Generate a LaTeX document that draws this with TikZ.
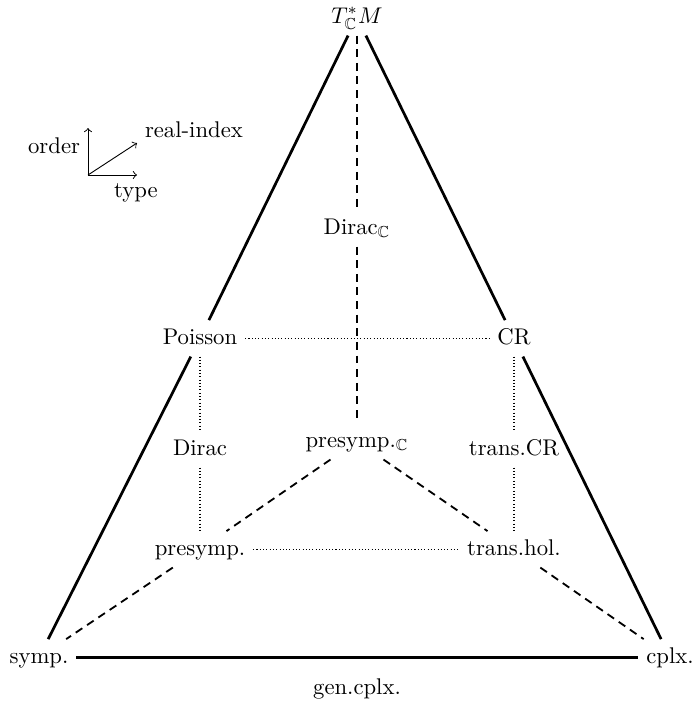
\documentclass[tikz,border=0pt]{standalone}
\usepackage{amssymb}
\begin{document}
\begin{tikzpicture}[x=0.4405pt,y=-0.4405pt,
  obj/.style={inner sep=3.33pt, text height=7pt, text depth=2pt, anchor=base},
  solidl/.style={line width=1.2pt},
  dashl/.style={line width=0.8pt, dash pattern=on 3.5pt off 2.5pt},
  dotl/.style={line width=0.45pt, densely dotted},
  axisl/.style={line width=0.4pt, ->}]
\useasboundingbox (0,0) rectangle (696,703);
% nodes
\node[obj] (TM) at (357,23) {$T^*_{\mathbb{C}}M$};
\node[obj] (DiracC) at (357,234) {Dirac$_{\mathbb{C}}$};
\node[obj] (Poisson) at (200,344) {Poisson};
\node[obj] (CR) at (514,344) {CR};
\node[obj] (presympC) at (357,447) {presymp.$_{\mathbb{C}}$};
\node[obj] (Dirac) at (200,455) {Dirac};
\node[obj] (transCR) at (514,455) {trans.CR};
\node[obj] (presymp) at (200,555) {presymp.};
\node[obj] (transhol) at (514,555) {trans.hol.};
\node[obj] (symp) at (39,663) {symp.};
\node[obj] (cplx) at (670,663) {cplx.};
\node[obj] (gencplx) at (357,694) {gen.cplx.};
% solid edges
\draw[solidl] (TM) -- (Poisson);
\draw[solidl] (Poisson) -- (symp);
\draw[solidl] (TM) -- (CR);
\draw[solidl] (CR) -- (cplx);
\draw[solidl] (symp) -- (cplx);
% dashed edges
\draw[dashl] (TM) -- (DiracC);
\draw[dashl] (DiracC) -- (presympC);
\draw[dashl] (presympC) -- (presymp);
\draw[dashl] (presympC) -- (transhol);
\draw[dashl] (presymp) -- (symp);
\draw[dashl] (transhol) -- (cplx);
% dotted edges
\draw[dotl] (Poisson) -- (CR);
\draw[dotl] (Poisson) -- (Dirac);
\draw[dotl] (Dirac) -- (presymp);
\draw[dotl] (CR) -- (transCR);
\draw[dotl] (transCR) -- (transhol);
\draw[dotl] (presymp) -- (transhol);
% legend
\coordinate (O) at (88,175);
\coordinate (Ou) at (88,128);
\coordinate (Ox) at (137,175);
\coordinate (Od) at (137,143);
\draw[axisl] (O) -- (Ou);
\draw[axisl] (O) -- (Ox);
\draw[axisl] (O) -- (Od);
\node[anchor=base east] (order) at (88,153) {order};
\node[anchor=base west] (realindex) at (137,137) {real-index};
\node[anchor=base] (type) at (136,197) {type};
\end{tikzpicture}
\end{document}
